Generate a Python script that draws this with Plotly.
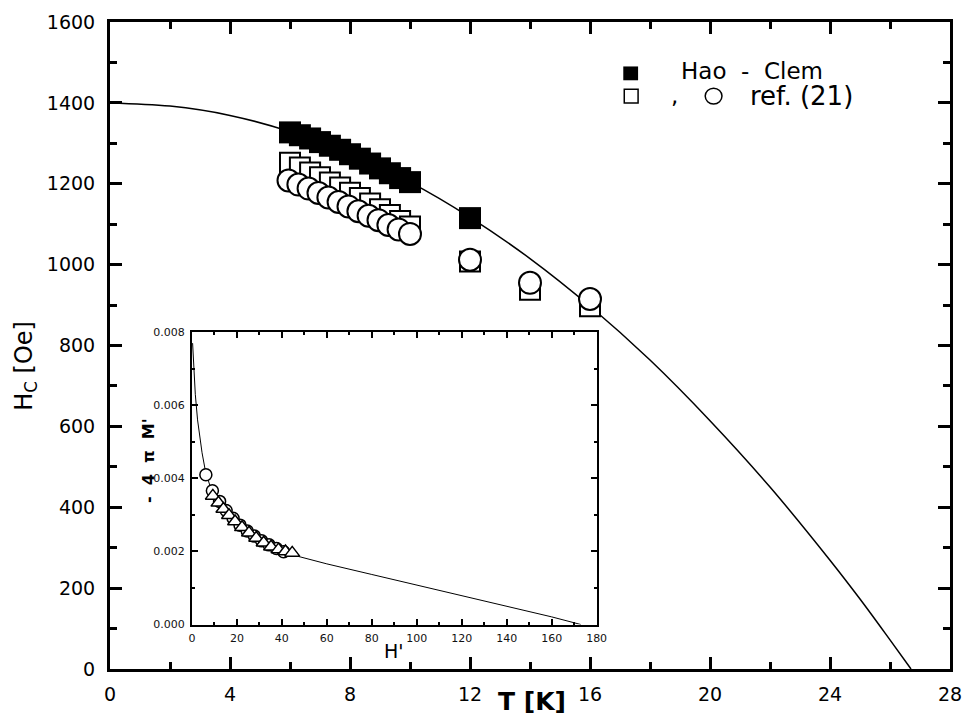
import plotly.graph_objects as go

# ---------------- data ----------------
# main panel: critical field vs temperature
fit_T = [0, 2, 4, 6, 8, 10, 12, 14, 16, 18, 20, 22, 24, 25, 26, 26.7]
fit_H = [1400, 1392, 1369, 1329, 1274, 1204, 1117, 1015, 897, 764, 614, 450, 269, 173, 72, 0]

hc_T = [6.0, 6.33, 6.67, 7.0, 7.33, 7.67, 8.0, 8.33, 8.67, 9.0, 9.33, 9.67, 10.0, 12.0]
hc_H = [1327, 1320, 1312, 1303, 1294, 1284, 1273, 1262, 1250, 1238, 1226, 1214, 1204, 1115]

sq_T = [6.0, 6.33, 6.67, 7.0, 7.33, 7.67, 8.0, 8.33, 8.67, 9.0, 9.33, 9.67, 10.0, 12.0, 14.0, 16.0]
sq_H = [1252, 1240, 1228, 1216, 1203, 1191, 1178, 1165, 1151, 1137, 1123, 1108, 1094, 1008, 938, 897]

ci_T = [5.95, 6.28, 6.62, 6.95, 7.28, 7.62, 7.95, 8.28, 8.62, 8.95, 9.28, 9.62, 10.0, 12.0, 14.0, 16.0]
ci_H = [1208, 1198, 1188, 1177, 1166, 1155, 1144, 1132, 1121, 1110, 1098, 1087, 1076, 1012, 955, 915]

# inset: magnetisation vs reduced field
in_fit_H = [0.3, 0.8, 1.5, 2.5, 3.5, 4.5, 6, 8, 10, 13, 16, 20, 25, 30, 35, 40, 47,
            60, 80, 100, 120, 140, 160, 173]
in_fit_M = [0.0077, 0.0071, 0.0063, 0.0056, 0.0051, 0.0047, 0.0042, 0.0038, 0.00355,
            0.0032, 0.0030, 0.0027, 0.0025, 0.00228, 0.00213, 0.0020, 0.00187,
            0.00166, 0.00137, 0.00108, 0.00080, 0.00051, 0.00021, 0.0]

in_ci_H = [6.2, 9.1, 12.3, 15.2, 18.3, 21.4, 24.6, 27.8, 31.0, 34.3, 37.6, 40.8]
in_ci_M = [0.0041, 0.00366, 0.00337, 0.00312, 0.00291, 0.00272, 0.00256, 0.00242,
           0.00229, 0.00218, 0.00208, 0.00199]

in_tr_H = [9.3, 11.8, 14.0, 16.5, 19.2, 22.3, 25.4, 28.6, 31.9, 35.2, 38.5, 41.6, 44.6]
in_tr_M = [0.00352, 0.00333, 0.00316, 0.00299, 0.00282, 0.00266, 0.00251, 0.00237,
           0.00224, 0.00213, 0.00205, 0.0020, 0.00196]

x_ticks = [0, 4, 8, 12, 16, 20, 24, 28]
y_ticks = [0, 200, 400, 600, 800, 1000, 1200, 1400, 1600]
in_x_ticks = [0, 20, 40, 60, 80, 100, 120, 140, 160, 180]
in_y_ticks = [0.0, 0.002, 0.004, 0.006, 0.008]

# ---------------- layout geometry (pixels) ----------------
W, H = 972, 721
L, R, T, B = 110, 961, 14, 669   # main plot frame


def px(x):
    return (x - L) / (R - L)


def py(y):
    return (B - y) / (B - T)


FONT = "DejaVu Sans"

fig = go.Figure()

fig.add_trace(go.Scatter(x=fit_T, y=fit_H, mode="lines", line=dict(color="black", width=1.5, shape="spline"),
                         xaxis="x", yaxis="y", showlegend=False, hoverinfo="skip"))
fig.add_trace(go.Scatter(x=sq_T, y=sq_H, mode="markers",
                         marker=dict(symbol="square", size=20, color="white", line=dict(color="black", width=2)),
                         xaxis="x", yaxis="y", showlegend=False))
fig.add_trace(go.Scatter(x=ci_T, y=ci_H, mode="markers",
                         marker=dict(symbol="circle", size=22, color="white", line=dict(color="black", width=2)),
                         xaxis="x", yaxis="y", showlegend=False))
fig.add_trace(go.Scatter(x=hc_T, y=hc_H, mode="markers",
                         marker=dict(symbol="square", size=22, color="black", line=dict(color="black", width=0)),
                         xaxis="x", yaxis="y", showlegend=False))

# inset
fig.add_trace(go.Scatter(x=in_fit_H, y=in_fit_M, mode="lines", line=dict(color="black", width=1),
                         xaxis="x2", yaxis="y2", showlegend=False, hoverinfo="skip"))
fig.add_trace(go.Scatter(x=in_ci_H, y=in_ci_M, mode="markers",
                         marker=dict(symbol="circle", size=12, color="white", line=dict(color="black", width=1.5)),
                         xaxis="x2", yaxis="y2", showlegend=False))
fig.add_trace(go.Scatter(x=in_tr_H, y=in_tr_M, mode="markers",
                         marker=dict(symbol="triangle-up", size=13, color="white", line=dict(color="black", width=1.5)),
                         xaxis="x2", yaxis="y2", showlegend=False))

axis_main = dict(showgrid=False, zeroline=False, showline=True, linecolor="black", linewidth=3,
                 ticks="inside", ticklen=12, tickwidth=3, tickcolor="black", mirror="ticks",
                 tickfont=dict(family=FONT, size=19, color="black"))

# inset frame positions
iL, iR, iT, iB = 193, 603, 328, 624
axis_in = dict(showgrid=False, zeroline=False, showline=True, linecolor="black", linewidth=2,
               ticks="inside", ticklen=6, tickwidth=1.5, tickcolor="black", mirror="ticks",
               tickfont=dict(family=FONT, size=11, color="#111"))

fig.update_layout(
    width=W, height=H,
    margin=dict(l=L, r=W - R, t=T, b=H - B),
    paper_bgcolor="white", plot_bgcolor="white",
    showlegend=False,
    xaxis=dict(axis_main, range=[0, 28], tickvals=x_ticks, ticklabelstandoff=6,
               minor=dict(dtick=2, ticklen=7, tickwidth=2.5, tickcolor="black", ticks="inside")),
    yaxis=dict(axis_main, range=[0, 1600], tickvals=y_ticks, ticklabelstandoff=8,
               minor=dict(dtick=100, ticklen=7, tickwidth=2.5, tickcolor="black", ticks="inside")),
    xaxis2=dict(axis_in, domain=[px(iL), px(iR)], anchor="y2", range=[0, 180], tickvals=in_x_ticks,
                ticklabelstandoff=2,
                minor=dict(dtick=10, ticklen=3, tickwidth=1.5, tickcolor="black", ticks="inside")),
    yaxis2=dict(axis_in, domain=[py(iB), py(iT)], anchor="x2", range=[0, 0.008], tickvals=in_y_ticks,
                tickformat=".3f", ticklabelstandoff=3,
                minor=dict(dtick=0.001, ticklen=3, tickwidth=1.5, tickcolor="black", ticks="inside")),
)

annotations = [
    dict(text="<b>T [K]</b>", x=px(538), y=py(702), font=dict(family=FONT, size=25, color="black")),
    dict(text="H<sub>C</sub> [Oe]", x=px(25), y=py(362), textangle=-90, font=dict(family=FONT, size=24, color="black")),
    dict(text="H'", x=px(398), y=py(651), font=dict(family=FONT, size=19, color="black")),
    dict(text="<b>-\u00a0\u00a04\u00a0\u00a0π\u00a0\u00a0M'</b>", x=px(149), y=py(458), textangle=-90,
         font=dict(family=FONT, size=16, color="black")),
    dict(text="Hao\u00a0\u00a0-\u00a0\u00a0Clem", x=px(686), y=py(64), xanchor="left",
         font=dict(family=FONT, size=23, color="black")),
    dict(text=",", x=px(682), y=py(88), font=dict(family=FONT, size=23, color="black")),
    dict(text="ref.\u00a0(21)", x=px(756), y=py(89), xanchor="left",
         font=dict(family=FONT, size=26, color="black")),
]
for a in annotations:
    a.setdefault("xref", "paper")
    a.setdefault("yref", "paper")
    a.setdefault("showarrow", False)
    a.setdefault("xanchor", "center")
    a.setdefault("yanchor", "middle")
fig.update_layout(annotations=annotations)

# legend glyphs
fig.add_shape(type="rect", xref="paper", yref="paper", x0=px(630), x1=px(645), y0=py(73), y1=py(59),
              fillcolor="black", line=dict(color="black", width=0))
fig.add_shape(type="rect", xref="paper", yref="paper", x0=px(631), x1=px(645), y0=py(96), y1=py(82),
              fillcolor="white", line=dict(color="black", width=1.5))
fig.add_shape(type="circle", xref="paper", yref="paper", x0=px(713), x1=px(730), y0=py(97), y1=py(81),
              fillcolor="white", line=dict(color="black", width=1.5))

fig.write_html("out.html")
